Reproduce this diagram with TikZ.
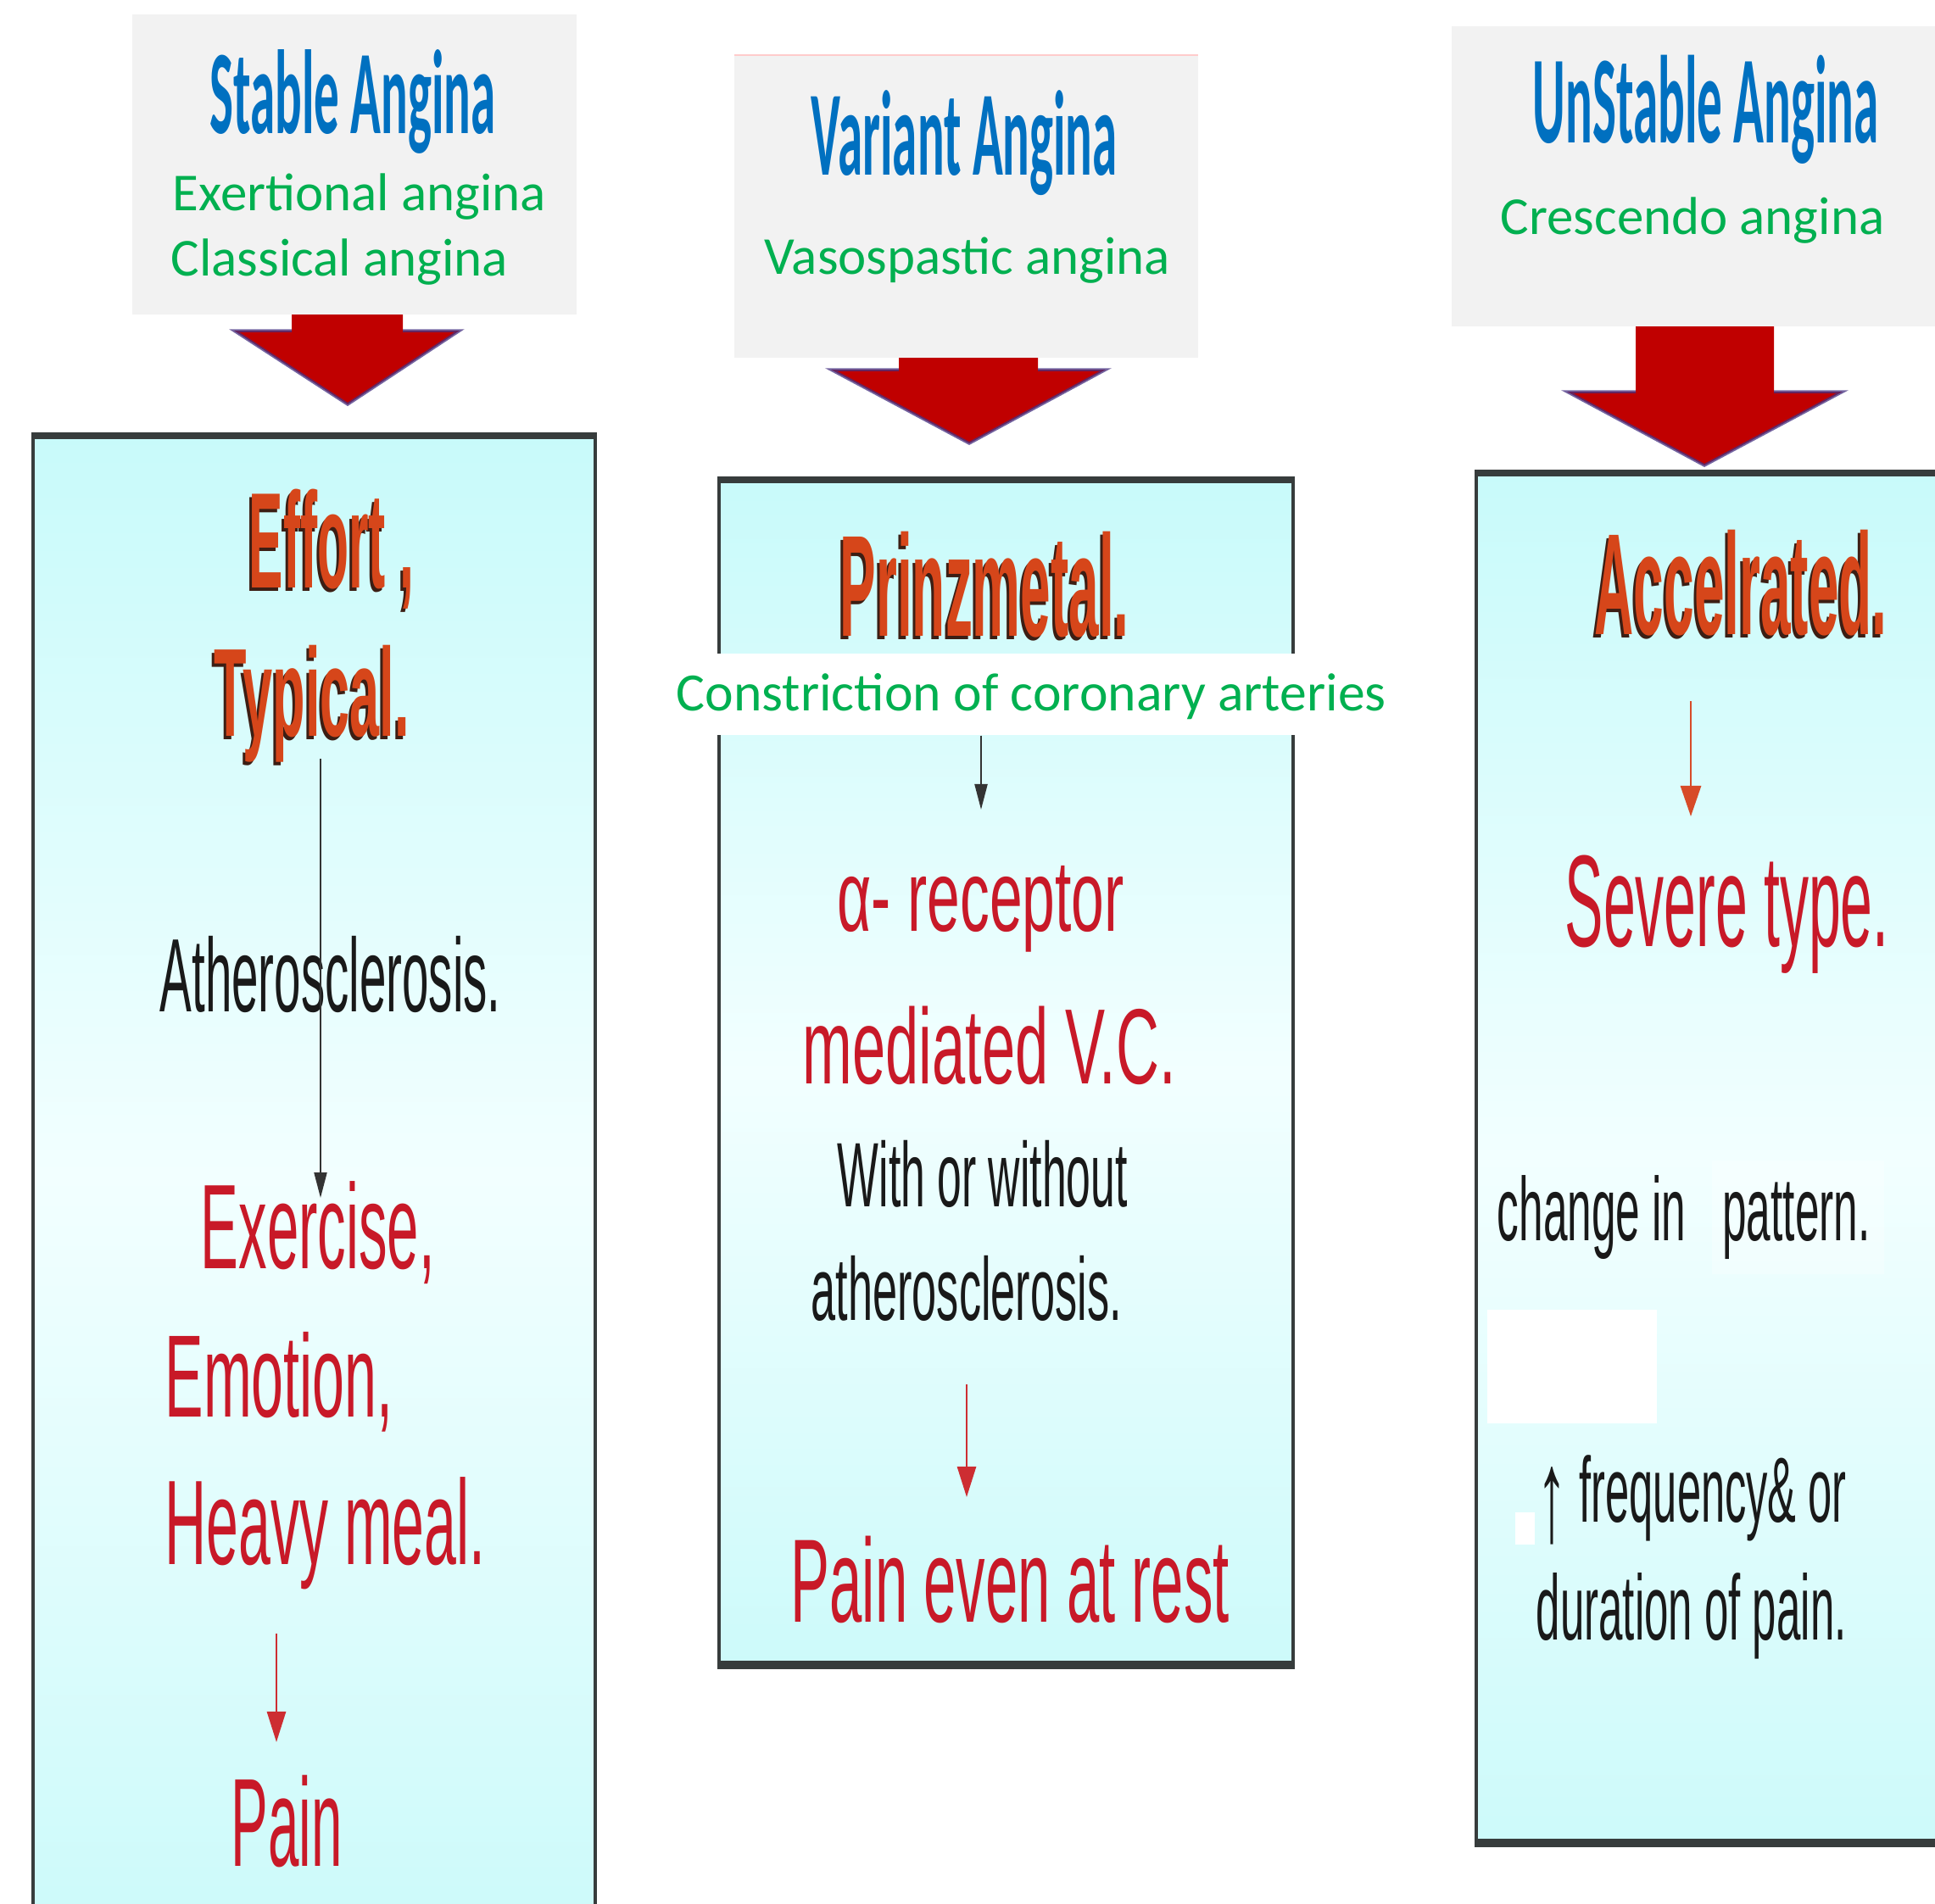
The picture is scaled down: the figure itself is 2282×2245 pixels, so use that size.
\documentclass[tikz,border=0pt]{standalone}
\usepackage{fontspec}
\usetikzlibrary{arrows.meta}
\newfontfamily\calfont{Carlito}
\newfontfamily\arfont{Liberation Sans}
\newlength\pxu \setlength\pxu{0.01cm}
\definecolor{hdrgray}{RGB}{242,242,242}
\definecolor{titleblue}{RGB}{0,112,192}
\definecolor{subgreen}{RGB}{0,176,80}
\definecolor{blockred}{RGB}{192,0,0}
\definecolor{edgeblue}{RGB}{70,50,130}
\definecolor{txtred}{RGB}{200,25,40}
\definecolor{boldred}{RGB}{214,70,26}
\definecolor{shadowcol}{RGB}{60,30,20}
\definecolor{arrred}{RGB}{205,45,50}
\definecolor{arrorange}{RGB}{215,75,40}
\definecolor{txtblack}{RGB}{25,25,25}
\definecolor{cyantop}{RGB}{200,250,250}
\definecolor{cyanmid}{RGB}{242,255,255}
\definecolor{cyanbot}{RGB}{205,250,250}
\definecolor{framecol}{RGB}{55,60,60}
% squeezed text: width (px), font size (pt), text
\newcommand\sq[3]{\resizebox{#1\pxu}{\height}{\fontsize{#2}{#2}\selectfont #3}}
\newcommand\shadowed[3]{\makebox[0pt][l]{\hspace*{-3\pxu}\raisebox{-4\pxu}{\color{shadowcol}\sq{#1}{#2}{#3}}}{\color{boldred}\sq{#1}{#2}{#3}}}
\tikzset{
  txt/.style={inner sep=0pt, anchor=base west, font=\arfont},
  ttl/.style={txt, text=titleblue, font=\calfont\bfseries},
  grn/.style={txt, text=subgreen, font=\calfont\fontsize{17.9}{17.9}\selectfont},
  hdr/.style={fill=hdrgray},
  blockarrow/.style={fill=blockred},
  blockedge/.style={draw=edgeblue, line width=1pt, opacity=0.75},
  panel/.style={top color=cyantop, bottom color=cyanbot, middle color=cyanmid},
  sideline/.style={draw=framecol, line width=0.9pt},
  topline/.style={draw=framecol, line width=2.2pt},
  blackarrow/.style={draw=black!80, line width=0.6pt, -{Triangle[length=0.3cm, width=0.15cm]}},
  redarrow/.style={draw=arrred, line width=0.8pt, -{Triangle[length=0.36cm, width=0.22cm]}},
  orangearrow/.style={draw=arrorange, line width=0.8pt, -{Triangle[length=0.36cm, width=0.24cm]}},
  patch/.style={fill=white}
}
\begin{document}
\begin{tikzpicture}[x=0.01cm, y=-0.01cm]
\useasboundingbox (0,0) rectangle (2282,2245);
\clip (0,0) rectangle (2282,2245);
\fill[white] (0,0) rectangle (2282,2245);

% ---------- header boxes ----------
\fill[hdr] (156,17) rectangle (680,371);
\fill[hdr] (866,65) rectangle (1413,422);
\draw[red!20, line width=0.6pt] (866,65) -- (1413,65);
\fill[hdr] (1712,31) rectangle (2290,385);

\node[ttl] (t1) at (247,157) {\sq{337}{40.1}{Stable Angina}};
\node[grn] (g1) at (203,248) {Exertional angina};
\node[grn] (g2) at (201,325) {Classical angina};

\node[ttl] (t2) at (956,206) {\sq{361}{40.5}{Variant Angina}};
\node[grn] (g3) at (901,323) {Vasospastic angina};

\node[ttl] (t3) at (1807,168) {\sq{408}{41.9}{UnStable Angina}};
\node[grn] (g4) at (1769,276) {Crescendo angina};

% ---------- block arrows ----------
\fill[blockarrow] (344,371) -- (475,371) -- (475,390) -- (542,390) -- (410,477) -- (276,390) -- (344,390) -- cycle;
\draw[blockedge] (475,390) -- (542,390) -- (410,477) -- (276,390) -- (344,390);
\fill[blockarrow] (1060,422) -- (1224,422) -- (1224,436) -- (1304,436) -- (1143,523) -- (980,436) -- (1060,436) -- cycle;
\draw[blockedge] (1224,436) -- (1304,436) -- (1143,523) -- (980,436) -- (1060,436);
\fill[blockarrow] (1929,385) -- (2092,385) -- (2092,462) -- (2173,462) -- (2010,549) -- (1848,462) -- (1929,462) -- cycle;
\draw[blockedge] (2092,462) -- (2173,462) -- (2010,549) -- (1848,462) -- (1929,462);

% ---------- panels ----------
\shade[panel] (39,514) rectangle (702,2260);
\draw[sideline] (39,2260) -- (39,514) (702,514) -- (702,2260);
\draw[topline] (37,514) -- (704,514);

\shade[panel] (848,566) rectangle (1525,1963);
\draw[sideline] (848,566) rectangle (1525,1963);
\draw[topline] (846,566) -- (1527,566);
\draw[draw=framecol, line width=2.6pt] (846,1964) -- (1527,1964);

\shade[panel] (1741,558) rectangle (2300,2174);
\draw[sideline] (2300,558) -- (1741,558) -- (1741,2174) -- (2300,2174);
\draw[topline] (1739,558) -- (2300,558);
\draw[draw=framecol, line width=2.8pt] (1739,2174) -- (2300,2174);

% ---------- left panel ----------
\node[txt] (effort) at (293,693) {\shadowed{195}{45.7}{\bfseries Effort ,}};
\node[txt] (typical) at (252,868) {\shadowed{230}{42.1}{\bfseries Typical.}};
\node[txt, text=txtblack] (ather) at (188,1193) {\sq{402}{35.0}{Atherosclerosis.}};
\node[txt, text=txtred] (exer) at (236,1496) {\sq{276}{40.4}{Exercise,}};
\node[txt, text=txtred] (emot) at (194,1671) {\sq{269}{39.3}{Emotion,}};
\node[txt, text=txtred] (heavy) at (194,1845) {\sq{378}{40.4}{Heavy meal.}};
\node[txt, text=txtred] (pain1) at (272,2201) {\sq{131}{42.1}{Pain}};
\coordinate (l1s) at (378,895);
\coordinate (l1e) at (378,1413);
\draw[blackarrow] (l1s) -- (l1e);
\coordinate (l2s) at (326,1927);
\coordinate (l2e) at (326,2055);
\draw[redarrow] (l2s) -- (l2e);

% ---------- middle panel ----------
\node[txt] (prinz) at (990,750) {\shadowed{341}{48.4}{\bfseries Prinzmetal.}};
\node[grn, fill=white, text height=0.67cm, text depth=0.29cm, font=\calfont\fontsize{18.1}{18.1}\selectfont] (constr) at (797,838) {Constriction of coronary arteries};
\coordinate (m1e) at (1157,955);
\draw[blackarrow] (constr.south -| m1e) -- (m1e);
\node[txt, text=txtred] (alpha) at (987,1098) {\sq{338}{33.9}{α- receptor}};
\node[txt, text=txtred] (medi) at (946,1278) {\sq{440}{35.9}{mediated V.C.}};
\node[txt, text=txtblack] (with) at (987,1423) {\sq{342}{30.7}{With or without}};
\node[txt, text=txtblack] (ather2) at (956,1557) {\sq{366}{29.9}{atherosclerosis.}};
\coordinate (m2s) at (1140,1633);
\coordinate (m2e) at (1140,1766);
\draw[redarrow] (m2s) -- (m2e);
\node[txt, text=txtred] (painrest) at (932,1913) {\sq{517}{39.8}{Pain even at rest}};

% ---------- right panel ----------
\node[txt] (accel) at (1880,748) {\shadowed{345}{48.4}{\bfseries Accelrated.}};
\coordinate (r1s) at (1994,827);
\coordinate (r1e) at (1994,963);
\draw[orangearrow] (r1s) -- (r1e);
\node[txt, text=txtred] (severe) at (1845,1116) {\sq{382}{43.8}{Severe type.}};
\fill[white, opacity=0.3] (2019,1369) rectangle (2222,1503);
\fill[patch] (1754,1545) rectangle (1954,1679);
\fill[patch] (1787,1784) rectangle (1810,1822);
\node[txt, text=txtblack] (change) at (1765,1463) {\sq{440}{30.2}{change in~~ pattern.}};
\node[txt, text=txtblack] (freq) at (1812,1795) {\sq{365}{31.0}{\raisebox{-22\pxu}{\fontsize{44}{44}\selectfont ↑} frequency\& or}};
\node[txt, text=txtblack] (dur) at (1811,1934) {\sq{366}{31.0}{duration of pain.}};
\end{tikzpicture}
\end{document}
